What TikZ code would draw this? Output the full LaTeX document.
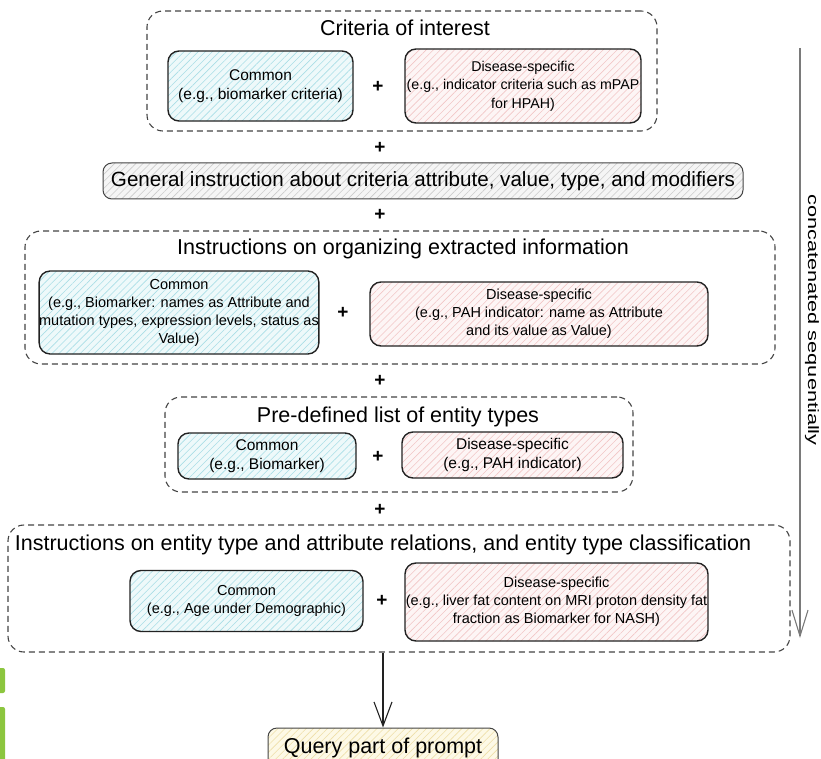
\documentclass[tikz,border=0pt]{standalone}
\usepackage{fontspec}
\setmainfont{Liberation Sans}
\usetikzlibrary{arrows.meta,patterns.meta}
\definecolor{cyanfill}{HTML}{EEF9FA}
\definecolor{cyanline}{HTML}{A9DEE6}
\definecolor{pinkfill}{HTML}{FDF5F5}
\definecolor{pinkline}{HTML}{F2C6C6}
\definecolor{greyfill}{HTML}{F5F5F5}
\definecolor{greyline}{HTML}{CCCCCC}
\definecolor{yelfill}{HTML}{FDF9E6}
\definecolor{yelline}{HTML}{EEDFA8}
\definecolor{edgec}{HTML}{222222}
\definecolor{dashc}{HTML}{444444}
\definecolor{arrowgrey}{HTML}{7A7A7A}
\definecolor{markgreen}{HTML}{8CC63F}
\tikzset{
  boxbase/.style={rectangle, rounded corners=11pt, draw=edgec, line width=1.4pt,
    align=center, inner xsep=0pt, inner ysep=2pt, font=\fontsize{14.5}{18}\selectfont},
  bigtext/.style={font=\fontsize{15.5}{19}\selectfont},
  commonbox/.style={boxbase, preaction={fill=cyanfill},
    pattern={Lines[angle=45,distance=5pt,line width=0.6pt]}, pattern color=cyanline},
  diseasebox/.style={boxbase, preaction={fill=pinkfill},
    pattern={Lines[angle=45,distance=5pt,line width=0.6pt]}, pattern color=pinkline},
  generalbox/.style={rectangle, rounded corners=9pt, draw=dashc, line width=1pt,
    preaction={fill=greyfill},
    pattern={Lines[angle=45,distance=5pt,line width=0.6pt]}, pattern color=greyline,
    font=\fontsize{20.6}{25}\selectfont, inner sep=0pt},
  querybox/.style={rectangle, rounded corners=9pt, draw=dashc, line width=1pt,
    preaction={fill=yelfill},
    pattern={Lines[angle=45,distance=5pt,line width=0.6pt]}, pattern color=yelline,
    inner sep=0pt},
  groupbox/.style={rectangle, rounded corners=16pt, draw=dashc, line width=1.1pt,
    dash pattern=on 6pt off 4pt, inner sep=0pt},
  titletext/.style={font=\fontsize{21.5}{25}\selectfont, inner sep=0pt},
  plustext/.style={font=\fontsize{19}{20}\selectfont\bfseries, inner sep=0pt},
  flowarrow/.style={line width=1.1pt, draw=edgec, -{Straight Barb[length=24pt,width=18pt,line width=1.1pt]}},
  seqarrow/.style={line width=1.1pt, draw=arrowgrey, -{Straight Barb[length=26pt,width=16pt,line width=1.1pt]}},
}
\begin{document}
\begin{tikzpicture}[x=1pt,y=-1pt]
\useasboundingbox (0,0) rectangle (821,759);

% stray green marks at left edge
\fill[markgreen, rounded corners=2pt] (-6,668) rectangle (5,693);
\fill[markgreen, rounded corners=2pt] (-6,707) rectangle (5,770);

% ---- Criteria of interest
\node[groupbox, minimum width=510pt, minimum height=120pt] (crit) at (402,71) {};
\node[titletext] (crittitle) at (405,28) {Criteria of interest};
\node[commonbox, bigtext, minimum width=185pt, minimum height=70pt] (c1) at (260.5,86) {Common\\(e.g., biomarker criteria)};
\node[plustext] (p1) at (378,87) {+};
\node[diseasebox, font=\fontsize{14.2}{18.5}\selectfont, minimum width=236pt, minimum height=74pt] (d1) at (523,86) {Disease-specific\\(e.g., indicator criteria such as mPAP\\for HPAH)};

\node[plustext] (p2) at (380,148) {+};

% ---- General instruction
\node[generalbox, minimum width=640pt, minimum height=36pt] (gen) at (423,181) {General instruction about criteria attribute, value, type, and modifiers};

\node[plustext] (p3) at (380,215) {+};

% ---- Instructions on organizing
\node[groupbox, minimum width=750pt, minimum height=133pt] (org) at (400,297.5) {};
\node[titletext] (orgtitle) at (403,249) {Instructions on organizing extracted information};
\node[commonbox, minimum width=278pt, minimum height=83pt] (c2) at (179,312.5) {Common\\(e.g., Biomarker: names as Attribute and\\mutation types, expression levels, status as\\Value)};
\node[plustext] (p4) at (343,313) {+};
\node[diseasebox, minimum width=338pt, minimum height=64pt] (d2) at (539,314) {Disease-specific\\(e.g., PAH indicator: name as Attribute\\and its value as Value)};

\node[plustext] (p5) at (380,381) {+};

% ---- Pre-defined list
\node[groupbox, minimum width=468pt, minimum height=95pt] (pre) at (399,444.5) {};
\node[titletext] (pretitle) at (398,417) {Pre-defined list of entity types};
\node[commonbox, bigtext, minimum width=178pt, minimum height=46pt] (c3) at (267,456) {Common\\(e.g., Biomarker)};
\node[plustext] (p6) at (378,457) {+};
\node[diseasebox, bigtext, minimum width=221pt, minimum height=46pt] (d3) at (512.5,455) {Disease-specific\\(e.g., PAH indicator)};

\node[plustext] (p7) at (380,510) {+};

% ---- Relations
\node[groupbox, minimum width=782pt, minimum height=127pt] (rel) at (399,588.5) {};
\node[titletext] (reltitle) at (383,545) {Instructions on entity type and attribute relations, and entity type classification};
\node[commonbox, minimum width=233pt, minimum height=61pt] (c4) at (246.5,601) {Common\\(e.g., Age under Demographic)};
\node[plustext] (p8) at (382,601) {+};
\node[diseasebox, minimum width=303pt, minimum height=78pt] (d4) at (556.5,602) {Disease-specific\\(e.g., liver fat content on MRI proton density fat\\fraction as Biomarker for NASH)};

% ---- Query
\node[querybox, minimum width=230pt, minimum height=46pt] (query) at (383,751) {};
\node[titletext] (querytext) at (383,748) {Query part of prompt};
\draw[flowarrow] (rel.south -| query.north) -- (query.north);

% ---- concatenated sequentially
\coordinate (seqtop) at (800,48);
\coordinate (seqend) at (800,638);
\draw[seqarrow] (seqtop) -- (seqend);
\node[rotate=-90, font=\fontsize{15}{18}\selectfont, inner sep=0pt] (seqlabel) at (812,320) {\scalebox{1.45}[1]{concatenated sequentially}};
\end{tikzpicture}
\end{document}
